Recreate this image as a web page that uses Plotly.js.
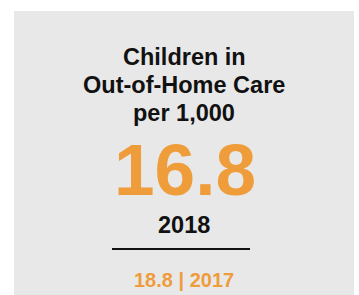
<!DOCTYPE html>
<html>
<head>
<meta charset="utf-8">
<script src="https://cdn.plot.ly/plotly-3.0.1.min.js"></script>
<style>html,body{margin:0;padding:0;background:#fff;}#chart{width:359px;height:295px;}</style>
</head>
<body>
<div id="chart"></div>
<script>
// Data
const titleLines = ["Children in", "Out-of-Home Care", "per 1,000"];
const years = [2017, 2018];
const values = [18.8, 16.8];

const ORANGE = "#ef9c3b";
const GRAY = "#e8e8e8";
const FONT = "Liberation Sans, Arial, Helvetica, sans-serif";

const cur = values.length - 1;
const prev = cur - 1;
const cx = 184;
const titleY = [57, 85, 113];

const annotations = titleLines.map((t, i) => ({
  xref: "x", yref: "y", x: cx, y: titleY[i], text: t,
  showarrow: false, xanchor: "center", yanchor: "middle", align: "center",
  font: {family: FONT, size: 23.5, color: "#111111", weight: "bold"}
}));

annotations.push(
  {xref: "x", yref: "y", x: cx + 1, y: 169, text: values[cur].toFixed(1),
   showarrow: false, xanchor: "center", yanchor: "middle",
   font: {family: FONT, size: 73, color: ORANGE, weight: "bold"}},
  {xref: "x", yref: "y", x: cx, y: 225, text: String(years[cur]),
   showarrow: false, xanchor: "center", yanchor: "middle",
   font: {family: FONT, size: 23.5, color: "#111111", weight: "bold"}},
  {xref: "x", yref: "y", x: cx, y: 280, text: values[prev].toFixed(1) + " | " + years[prev],
   showarrow: false, xanchor: "center", yanchor: "middle",
   font: {family: FONT, size: 20, color: ORANGE, weight: "bold"}}
);

const layout = {
  width: 359, height: 295,
  margin: {l: 0, r: 0, t: 0, b: 0, pad: 0},
  paper_bgcolor: "#ffffff",
  plot_bgcolor: "rgba(0,0,0,0)",
  showlegend: false,
  xaxis: {range: [0, 359], visible: false, fixedrange: true},
  yaxis: {range: [295, 0], visible: false, fixedrange: true},
  shapes: [
    {type: "rect", xref: "x", yref: "y", x0: 14, x1: 354, y0: 11, y1: 300,
     fillcolor: GRAY, line: {width: 0}, layer: "below"},
    {type: "line", xref: "x", yref: "y", x0: 112, x1: 250, y0: 249, y1: 249,
     line: {color: "#111111", width: 2}}
  ],
  annotations: annotations
};

Plotly.newPlot("chart", [], layout, {staticPlot: true, displayModeBar: false});
</script>
</body>
</html>
